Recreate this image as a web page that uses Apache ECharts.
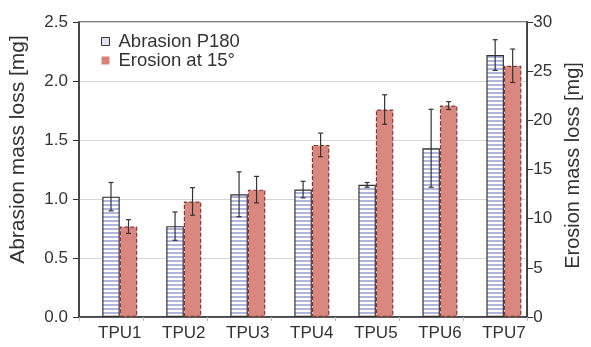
<!DOCTYPE html>
<html>
<head>
<meta charset="utf-8">
<script src="https://cdn.jsdelivr.net/npm/echarts@6/dist/echarts.min.js"></script>
<style>
html,body{margin:0;padding:0;background:#fff;}
#chart{width:591px;height:347px;}
</style>
</head>
<body>
<div id="chart"></div>
<script>
const categories = ['TPU1','TPU2','TPU3','TPU4','TPU5','TPU6','TPU7'];
const abrasion = [1.02, 0.77, 1.04, 1.08, 1.12, 1.43, 2.22];
const abrasionErr = [0.12, 0.12, 0.19, 0.07, 0.02, 0.33, 0.13];
const erosion = [9.2, 11.75, 12.95, 17.5, 21.1, 21.5, 25.55];
const erosionErr = [0.7, 1.4, 1.35, 1.2, 1.5, 0.4, 1.7];
const leftTicks = [0, 0.5, 1.0, 1.5, 2.0, 2.5];
const rightTicks = [0, 5, 10, 15, 20, 25, 30];

const FONT = '"Liberation Sans", Arial, sans-serif';
const BAR_W = 17.5;

// striped pattern for abrasion bars
const pc = document.createElement('canvas');
pc.width = 4; pc.height = 4;
const pctx = pc.getContext('2d');
pctx.fillStyle = '#ffffff'; pctx.fillRect(0,0,4,4);
pctx.fillStyle = '#aeb6dd'; pctx.fillRect(0,0,4,2);

function errSeries(name, vals, errs, axisIdx, offsetBars) {
  return {
    type: 'custom', name: name + ' err', yAxisIndex: axisIdx, z: 10,
    data: vals.map((v, i) => [i, v, errs[i]]),
    renderItem: function (params, api) {
      const i = api.value(0), v = api.value(1), e = api.value(2);
      const top = api.coord([i, v + e]);
      const bot = api.coord([i, v - e]);
      const x = top[0] + offsetBars * BAR_W;
      const cap = 2.5;
      const st = {stroke: '#333', lineWidth: 1.2};
      return {type: 'group', children: [
        {type: 'line', shape: {x1: x, y1: top[1], x2: x, y2: bot[1]}, style: st},
        {type: 'line', shape: {x1: x-cap, y1: top[1], x2: x+cap, y2: top[1]}, style: st},
        {type: 'line', shape: {x1: x-cap, y1: bot[1], x2: x+cap, y2: bot[1]}, style: st}
      ]};
    }
  };
}

const chart = echarts.init(document.getElementById('chart'), null, {renderer: 'canvas'});
chart.setOption({
  animation: false,
  textStyle: {fontFamily: FONT},
  grid: {left: 77, right: 56, top: 22, bottom: 30, show: true, borderColor: '#555', borderWidth: 1.5, backgroundColor: 'transparent'},
  legend: {
    orient: 'vertical', left: 96, top: 27, itemGap: 0,
    itemWidth: 8, itemHeight: 8, icon: 'rect',
    textStyle: {fontFamily: FONT, fontSize: 18.5, color: '#333', lineHeight: 17, padding: [0, 0, 0, 4]},
    data: [
      {name: 'Abrasion P180', itemStyle: {color: '#dde3f3', borderColor: '#333', borderWidth: 1}},
      {name: 'Erosion at 15°', itemStyle: {color: '#d9837b', borderColor: '#d9837b', borderWidth: 0}}
    ]
  },
  xAxis: {
    type: 'category', data: categories,
    axisLine: {show: true, lineStyle: {color: '#333', width: 1.5}},
    axisTick: {show: true, length: 4, lineStyle: {color: '#bbb'}},
    axisLabel: {fontFamily: FONT, fontSize: 17, color: '#333', margin: 8, padding: [0, 0, 0, 17.5]},
    splitLine: {show: false}
  },
  yAxis: [
    {
      type: 'value', min: 0, max: 2.5, interval: 0.5,
      name: 'Abrasion mass loss [mg]', nameLocation: 'middle', nameGap: 50,
      nameTextStyle: {fontFamily: FONT, fontSize: 21, color: '#333', padding: [0, 0, 0, 40]},
      axisLine: {show: true, lineStyle: {color: '#333', width: 1.5}},
      axisTick: {show: true, length: 6, lineStyle: {color: '#333'}},
      axisLabel: {fontFamily: FONT, fontSize: 17, color: '#333', margin: 11,
        formatter: v => leftTicks.includes(+v.toFixed(1)) ? v.toFixed(1) : ''},
      splitLine: {show: true, lineStyle: {color: '#d6d6d6', width: 1}}
    },
    {
      type: 'value', min: 0, max: 30, interval: 5,
      name: 'Erosion mass loss [mg]', nameLocation: 'middle', nameGap: 34,
      nameTextStyle: {fontFamily: FONT, fontSize: 20, color: '#333', padding: [0, 0, 0, 8]},
      axisLine: {show: true, lineStyle: {color: '#333', width: 1.5}},
      axisTick: {show: true, length: 6, lineStyle: {color: '#333'}},
      axisLabel: {fontFamily: FONT, fontSize: 17, color: '#333', margin: 6,
        formatter: v => rightTicks.includes(v) ? String(v) : ''},
      splitLine: {show: false}
    }
  ],
  series: [
    {type: 'bar', name: '', data: categories.map(() => '-'), barWidth: BAR_W, barGap: '0%'},
    {type: 'bar', name: 'Abrasion P180', yAxisIndex: 0, data: abrasion, barWidth: BAR_W, barGap: '0%',
      itemStyle: {color: {image: pc, repeat: 'repeat'}, borderColor: '#333', borderWidth: 1.2}},
    {type: 'bar', name: 'Erosion at 15°', yAxisIndex: 1, data: erosion, barWidth: BAR_W, barGap: '0%',
      itemStyle: {color: '#d9877f', borderColor: '#7a3b37', borderWidth: 1.2, borderType: [4, 2]}},
    errSeries('Abrasion P180', abrasion, abrasionErr, 0, 0),
    errSeries('Erosion at 15°', erosion, erosionErr, 1, 1)
  ]
});
</script>
</body>
</html>
